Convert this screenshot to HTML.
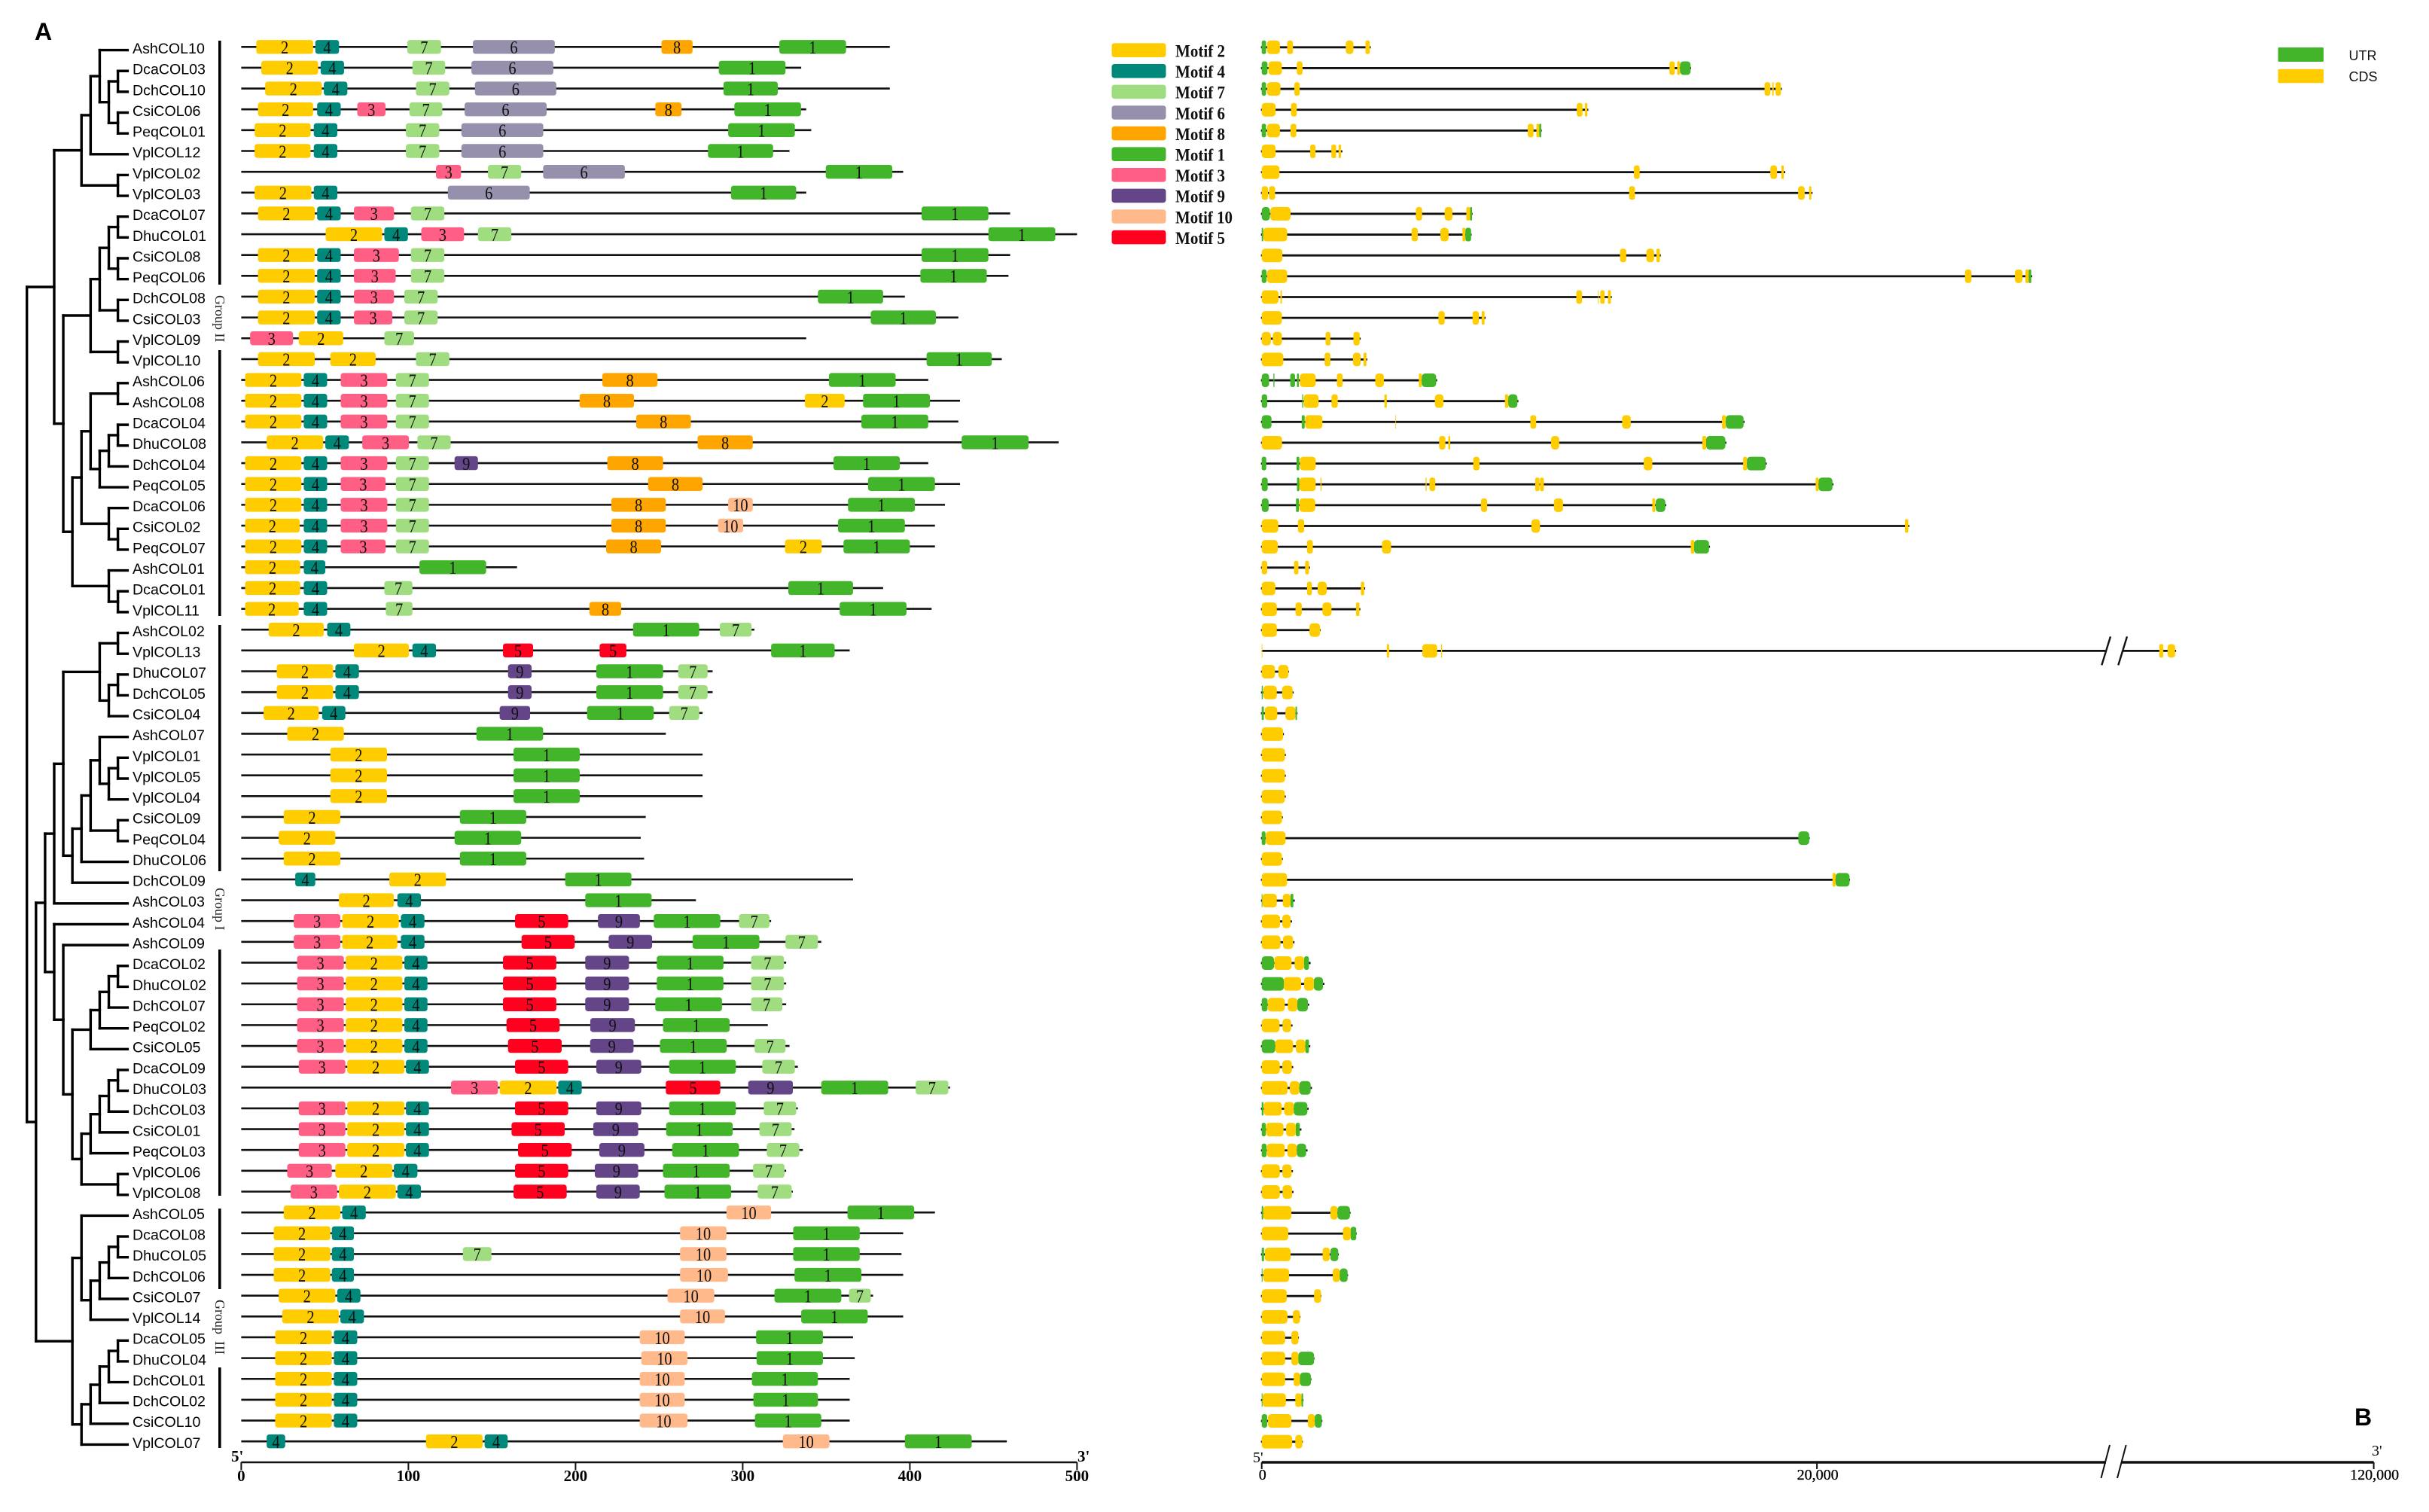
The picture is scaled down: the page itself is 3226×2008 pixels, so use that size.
<!DOCTYPE html>
<html lang="en">
<head>
<meta charset="utf-8">
<title>COL gene family: motifs and gene structure</title>
<style>
html,body{margin:0;padding:0;background:#fff;}
svg{display:block;}
.lab{font-family:"Liberation Sans",sans-serif;}
.ser{font-family:"Liberation Serif",serif;}
</style>
</head>
<body>
<svg id="chart" xmlns="http://www.w3.org/2000/svg" width="3226" height="2008" viewBox="0 0 3226 2008">
  <rect x="0" y="0" width="3226" height="2008" fill="#ffffff"/>
  <text class="lab" x="46" y="53" font-size="32" font-weight="bold">A</text>
  <text class="lab" x="3127" y="1893" font-size="32" font-weight="bold">B</text>

  <g fill="#000">
    <rect x="290" y="54" width="3.6" height="324"/>
    <rect x="290" y="465" width="3.6" height="353"/>
    <rect x="290" y="830" width="3.6" height="327"/>
    <rect x="290" y="1261" width="3.6" height="327"/>
    <rect x="290" y="1605" width="3.6" height="107"/>
    <rect x="290" y="1816" width="3.6" height="107"/>
  </g>
  <text class="ser" transform="translate(286,392) rotate(90)" font-size="18" fill="#222">Group II</text>
  <text class="ser" transform="translate(286,1179) rotate(90)" font-size="18" fill="#222">Group I</text>
  <text class="ser" transform="translate(286,1726) rotate(90)" font-size="18" fill="#222" xml:space="preserve">Group  III</text>

  <g id="tree"></g>
  <g id="names"></g>
  <g id="motifRows"></g>
  <g id="motifLegend"></g>
  <g id="geneRows"></g>
  <g id="geneLegend"></g>
  <g id="axisA"></g>
  <g id="axisB"></g>
</svg>
<script>
const geneNames=["AshCOL10","DcaCOL03","DchCOL10","CsiCOL06","PeqCOL01","VplCOL12","VplCOL02","VplCOL03","DcaCOL07","DhuCOL01","CsiCOL08","PeqCOL06","DchCOL08","CsiCOL03","VplCOL09","VplCOL10","AshCOL06","AshCOL08","DcaCOL04","DhuCOL08","DchCOL04","PeqCOL05","DcaCOL06","CsiCOL02","PeqCOL07","AshCOL01","DcaCOL01","VplCOL11","AshCOL02","VplCOL13","DhuCOL07","DchCOL05","CsiCOL04","AshCOL07","VplCOL01","VplCOL05","VplCOL04","CsiCOL09","PeqCOL04","DhuCOL06","DchCOL09","AshCOL03","AshCOL04","AshCOL09","DcaCOL02","DhuCOL02","DchCOL07","PeqCOL02","CsiCOL05","DcaCOL09","DhuCOL03","DchCOL03","CsiCOL01","PeqCOL03","VplCOL06","VplCOL08","AshCOL05","DcaCOL08","DhuCOL05","DchCOL06","CsiCOL07","VplCOL14","DcaCOL05","DhuCOL04","DchCOL01","DchCOL02","CsiCOL10","VplCOL07"];

const proteinLengths=[388,335,388,338,341,328,396,338,460,500,460,459,397,429,338,455,411,430,429,489,411,430,421,415,415,165,384,413,307,364,282,282,276,254,276,276,276,242,239,241,366,272,317,347,326,326,326,315,328,333,424,333,331,336,326,330,415,396,395,396,378,396,366,367,364,364,364,458];

const proteinMotifs=[
[[2,9,43],[4,44.3,58.5],[7,99.4,119.5],[6,138.6,187.6],[8,251.4,270],[1,321.9,361.8]],
[[2,12,46],[4,47.5,61.5],[7,102.4,122],[6,137.7,186.7],[1,285.7,325.6]],
[[2,14.3,48.2],[4,49.4,63.5],[7,104.5,124.5],[6,139.8,188.5],[1,288.5,321]],
[[2,10,43],[4,45.4,59.5],[3,69.4,86.3],[7,100.6,120.3],[6,133.6,182.7],[8,247.7,263.4],[1,295,334.9]],
[[2,8,41.5],[4,43.4,57.5],[7,98.5,118.5],[6,131.7,180.7],[1,291.3,331.2]],
[[2,8,41.5],[4,43.4,57.5],[7,98.5,118.5],[6,131.7,180.7],[1,279.2,318.2]],
[[3,116.5,131.5],[7,147.6,167.5],[6,180.6,229.5],[1,349.7,389.5]],
[[2,8,42],[4,43.4,57.5],[6,123.6,172.6],[1,293,332]],
[[2,10,44],[4,45.4,59.5],[3,67.4,91.4],[7,101.5,121.5],[1,407,447]],
[[2,50.5,84.3],[4,85.6,99.7],[3,107.7,133.3],[7,141.6,161.6],[1,447,487]],
[[2,10,44],[4,45.4,59.5],[3,67.4,94.3],[7,101.5,121.5],[1,407,447]],
[[2,10,44],[4,45.4,59.5],[3,67.4,92.4],[7,101.5,121.5],[1,406.3,446]],
[[2,10,44],[4,45.4,59.5],[3,67.4,91.4],[7,97.6,117.5],[1,345,384]],
[[2,10,44],[4,45.4,59.5],[3,67.4,90.4],[7,97.6,117.5],[1,376.6,415.6]],
[[3,5.3,31],[2,34.4,61],[7,85.6,103.4]],
[[2,10,44],[2,53.3,80.4],[7,104.5,124.5],[1,410,449]],
[[2,2.3,36],[4,37.4,51.4],[3,59.5,87.4],[7,92.5,112.3],[8,216,249],[1,351.6,391.5]],
[[2,2.3,36],[4,37.4,51.4],[3,59.5,87.4],[7,92.5,112.3],[8,202.4,235],[2,337.2,361],[1,372,412]],
[[2,2.3,36],[4,37.4,51.4],[3,59.5,87.4],[7,92.5,112.3],[8,236.3,269],[1,371,411]],
[[2,15.2,49],[4,50.3,64.4],[3,72.4,100.3],[7,105.4,125.3],[8,273,306],[1,431,471]],
[[2,2.3,36],[4,37.4,51.4],[3,59.5,87.4],[7,92.5,112.3],[9,127.6,141.6],[8,219,252.4],[1,354.3,394]],
[[2,2.3,36],[4,37.4,51.4],[3,59.5,86.4],[7,92.5,112.3],[8,243.4,276],[1,375,415]],
[[2,2.3,36],[4,37.4,51.4],[3,59.5,87.4],[7,92.5,112.3],[8,221.4,254],[10,291.3,306],[1,363,403]],
[[2,2.3,35],[4,37.4,51.4],[3,59.5,87.4],[7,92.5,112.3],[8,221.4,254],[10,285.2,300.3],[1,357,397]],
[[2,2.3,36],[4,37.4,51.4],[3,59.5,86.4],[7,92.5,112.3],[8,218.3,251.2],[2,325.3,347.3],[1,360.3,400]],
[[2,2.3,35.3],[4,37.4,50.3],[1,106.6,146.5]],
[[2,2.3,35.3],[4,37.4,51.4],[7,85.6,102.4],[1,327.3,366]],
[[2,2.3,34.4],[4,37.4,51.4],[7,86.5,102.4],[8,208.3,227.3],[1,358,398]],
[[2,16.4,49.4],[4,51.4,65.3],[1,234.4,274],[7,286.3,305.3]],
[[2,67.4,100.3],[4,102.4,116.5],[5,156.6,174.6],[5,214.4,230.4],[1,317,355]],
[[2,21.2,55],[4,56.3,70.4],[9,159.6,173.7],[1,212.4,252.4],[7,261.4,279]],
[[2,21.2,55],[4,56.3,70.4],[9,159.6,173.7],[1,212.4,252.4],[7,261.4,279]],
[[2,13.4,46.4],[4,48.4,62.3],[9,154.6,172.8],[1,206.9,246.8],[7,256,274]],
[[2,27.5,61.4],[1,140.7,180.6]],
[[2,53.3,87.2],[1,162.9,202.5]],
[[2,53.3,87.2],[1,162.9,202.5]],
[[2,53.3,87.2],[1,162.9,202.5]],
[[2,25.4,59.3],[1,130.8,170.5]],
[[2,22.4,56.3],[1,127.6,167.5]],
[[2,25.4,59.3],[1,130.8,170.5]],
[[4,32.3,44.3],[2,88.6,122.5],[1,193.8,233.4]],
[[2,58.4,91.3],[4,93.4,107.5],[1,205.8,245.5]],
[[3,31.4,59.3],[2,60.4,94.3],[4,95.5,109.6],[5,163.8,195.6],[9,213.4,238.5],[1,246.8,286.6],[7,297.8,316]],
[[3,31.4,59.3],[2,60.4,93.4],[4,95.5,109.6],[5,167.7,199.5],[9,219.8,245.8],[1,270,310],[7,325.6,345]],
[[3,33.4,61.4],[2,62.5,96.4],[4,97.6,111.4],[5,156.6,188.5],[9,205.8,232],[1,248.6,288.5],[7,305,324.7]],
[[3,33.4,61.4],[2,62.5,96.4],[4,97.6,111.4],[5,156.6,188.5],[9,205.8,232],[1,248.6,288.5],[7,305,324.7]],
[[3,33.4,61.4],[2,62.5,96.4],[4,97.6,111.4],[5,156.6,188.5],[9,205.8,232],[1,247.7,287.6],[7,305,323.7]],
[[3,33.4,61.4],[2,62.5,96.4],[4,97.6,111.4],[5,158.7,190.5],[9,208.8,235.5],[1,252.3,292.2]],
[[3,33.4,61.4],[2,62.5,96.4],[4,97.6,111.4],[5,159.6,191.7],[9,208.7,234.7],[1,250.5,290.4],[7,307.1,325.6]],
[[3,34.4,62.3],[2,63.4,97.6],[4,98.5,112.3],[5,163.8,195.6],[9,212.4,239.3],[1,256,295.9],[7,311.7,331.2]],
[[3,125.5,153.6],[2,154.6,188.7],[4,189.6,203.7],[5,254,286.6],[9,303.3,330],[1,347,387],[7,403.5,423]],
[[3,34.4,62.3],[2,63.4,97.6],[4,98.5,112.3],[5,163.8,195.6],[9,212.4,239.3],[1,256,295.9],[7,312.6,332]],
[[3,34.4,62.3],[2,63.4,97.6],[4,98.5,112.3],[5,161.7,193.5],[9,210.6,237.5],[1,254.2,294],[7,310,329.3]],
[[3,34.4,62.3],[2,63.4,97.6],[4,98.5,112.3],[5,165.6,197.7],[9,214.2,241.2],[1,257.8,297.8],[7,314.4,333.9]],
[[3,27.5,54.2],[2,56.3,90.4],[4,91.3,105.4],[5,163.8,195.6],[9,211.5,237.5],[1,252.3,292.2],[7,306.2,325]],
[[3,29.5,57.4],[2,58.4,92.5],[4,93.4,107.5],[5,162.9,194.7],[9,212.4,238.4],[1,253.2,293.1],[7,308.9,329.3]],
[[2,25.4,59.3],[4,60.4,74.5],[10,290.3,317],[1,362.7,402.6]],
[[2,19.4,53.3],[4,54.2,67.4],[10,262.5,290.3],[1,330.2,370]],
[[2,19.4,53.3],[4,54.2,67.4],[7,132.6,149.7],[10,262.5,290.3],[1,330.2,370]],
[[2,19.4,53.3],[4,54.2,67.4],[10,262.5,291.2],[1,331,371]],
[[2,22.4,56.3],[4,57.4,71.3],[10,255,283],[1,319,359],[7,363.6,376.6]],
[[2,24.5,58.4],[4,59.3,73.4],[10,262.5,289.4],[1,335,374.8]],
[[2,20.3,54.2],[4,55.4,69.4],[10,238.4,265.3],[1,308,348]],
[[2,20.3,54.2],[4,55.4,69.4],[10,239.3,267],[1,308.3,348]],
[[2,20.3,54.2],[4,55.4,69.4],[10,238.4,265.3],[1,305.5,345]],
[[2,20.3,54.2],[4,55.4,69.4],[10,238.4,265.3],[1,306.4,345]],
[[2,20.3,54.2],[4,55.4,69.4],[10,238.4,267],[1,307.3,347]],
[[4,15.2,26.3],[2,110.5,144.4],[4,145.6,159.4],[10,324,351.9],[1,397,437]]
];

const geneLengths=[3927,15466,18736,11764,10086,2906,18857,19840,7595,7560,14376,27755,12612,8062,3564,3806,6320,9246,17393,16737,18190,20595,14573,23327,16148,1737,3727,3553,2120,112880,980,1150,1290,800,868,868,868,760,19740,760,21190,1190,1090,1180,1760,2260,1710,1110,1750,1135,1810,1690,1430,1650,1125,1145,3200,3420,2775,3110,2150,1395,1340,1900,1790,1505,2185,1480];

const geneExons=[
[["U",0,156],["C",190,657],["C",917,1125],["C",3028,3304],["C",3737,3893]],
[["U",0,208],["C",242,727],["C",1263,1470],["C",14688,14878],["C",14965,15068],["U",15068,15449]],
[["U",0,156],["C",190,675],["C",1176,1367],["C",18113,18321],["C",18390,18442],["C",18511,18701]],
[["C",0,502],["C",1055,1263],["C",11349,11556],["C",11643,11730]],
[["U",0,156],["C",190,657],["C",1038,1246],["C",9584,9792],["C",9896,10000],["U",10000,10069]],
[["C",0,502],["C",1747,1938],["C",2509,2682],["C",2768,2855]],
[["C",0,640],["C",13408,13615],["C",18321,18563],["C",18719,18805]],
[["C",0,225],["C",260,484],["C",13235,13442],["C",19320,19560],["C",19720,19800]],
[["U",0,294],["C",311,1038],["C",5553,5778],["C",6591,6868],["C",7370,7508],["U",7508,7577]],
[["U",0,52],["C",52,917],["C",5398,5622],["C",6436,6730],["C",7231,7335],["U",7335,7543]],
[["C",0,744],["C",12906,13131],["C",13857,14134],["C",14220,14342]],
[["U",0,173],["C",190,917],["C",25332,25566],["C",27131,27402],["C",27510,27630],["U",27630,27720]],
[["C",0,605],["C",675,727],["C",11332,11539],["C",12110,12128],["C",12197,12352],["C",12473,12577]],
[["C",0,727],["C",6366,6591],["C",7595,7820],["C",7923,8027]],
[["C",0,329],["C",398,727],["C",2301,2474],["C",3304,3529]],
[["C",0,779],["C",2266,2474],["C",3287,3564],["C",3668,3772]],
[["U",0,266],["U",422,457],["U",1028,1200],["U",1270,1339],["C",1374,1945],["C",2706,2914],["C",4090,4401],["C",5661,5765],["U",5765,6284]],
[["U",0,197],["U",1460,1495],["C",1512,2048],["C",2515,2740],["C",4419,4506],["C",6236,6547],["C",8761,8882],["U",8882,9211]],
[["U",0,353],["U",1443,1547],["C",1564,2187],["C",4817,4834],["C",9678,9886],["C",12982,13293],["C",16580,16718],["U",16718,17358]],
[["C",0,733],["C",6391,6616],["C",6720,6789],["C",10422,10716],["C",15871,16010],["U",16010,16702]],
[["U",0,163],["U",1253,1356],["C",1374,1945],["C",7619,7844],["C",13760,14071],["C",17342,17480],["U",17480,18155]],
[["U",0,215],["U",1270,1356],["C",1356,1945],["C",2117,2152],["C",5903,5938],["C",6042,6252],["C",9851,10007],["C",10024,10162],["C",19955,20059],["U",20059,20560]],
[["U",0,249],["U",1235,1339],["C",1356,1927],["C",7896,8121],["C",10525,10854],["C",14071,14175],["U",14192,14538]],
[["C",0,595],["C",1304,1529],["C",9713,10024],["C",23171,23292]],
[["C",0,578],["C",1633,1841],["C",4332,4661],["C",15456,15577],["U",15577,16113]],
[["C",0,197],["C",1166,1322],["C",1564,1702]],
[["C",0,491],["C",1633,1806],["C",2014,2342],["C",3571,3692]],
[["C",0,543],["C",1218,1443],["C",2187,2515],["C",3398,3519]],
[["C",0,543],["C",1720,2100]],
[["C",0,24],["C",4505,4590],["C",5785,6321],["C",6460,6495],["C",112276,112420],["C",112574,112845]],
[["C",0,477],["C",598,961]],
[["U",0,41],["C",59,543],["C",733,1114]],
[["U",0,76],["C",111,561],["C",855,1218],["U",1218,1270]],
[["C",0,768]],
[["C",0,837]],
[["C",0,837]],
[["C",0,832]],
[["C",0,732]],
[["U",0,136],["C",145,859],["U",19331,19722]],
[["C",0,732]],
[["C",0,913],["C",20560,20672],["U",20672,21175]],
[["U",0,18],["C",18,542],["C",759,1040],["U",1040,1139]],
[["C",0,660],["C",741,1040]],
[["C",0,678],["C",768,1130]],
[["U",0,443],["C",452,1076],["C",1184,1528],["U",1528,1700]],
[["U",0,796],["C",796,1419],["C",1528,1880],["U",1880,2206]],
[["U",0,208],["C",217,832],["C",940,1284],["U",1284,1663]],
[["C",0,642],["C",750,1058]],
[["U",0,488],["C",488,1130],["C",1229,1573],["U",1573,1700]],
[["C",0,651],["C",741,1085]],
[["C",0,931],["C",1012,1356],["U",1356,1763]],
[["U",0,63],["C",72,723],["C",805,1157],["U",1157,1645]],
[["U",0,145],["C",154,786],["C",877,1229],["U",1229,1374]],
[["U",0,172],["C",181,832],["C",922,1266],["U",1266,1600]],
[["C",0,651],["C",741,1076]],
[["C",0,651],["C",750,1094]],
[["U",0,56],["C",56,1069],["C",2475,2729],["U",2729,3179]],
[["C",0,956],["C",2926,3207],["U",3207,3404]],
[["U",0,84],["C",112,1041],["C",2194,2447],["U",2475,2757]],
[["U",0,28],["C",56,985],["C",2560,2813],["U",2813,3094]],
[["C",0,900],["C",1885,2138]],
[["C",0,928],["C",1125,1378]],
[["C",0,844],["C",1069,1322]],
[["C",0,844],["C",1069,1322],["U",1322,1885]],
[["C",0,844],["C",1153,1378],["U",1378,1772]],
[["U",0,28],["C",28,872],["C",1210,1434],["U",1434,1491]],
[["U",0,197],["C",225,1069],["C",1660,1913],["U",1913,2166]],
[["C",0,1097],["C",1210,1463]]
];

const phyloTree=[0,
 [3,
  [6,[7,[8,"AshCOL10",[9,[10,"DcaCOL03","DchCOL10"],[10,"CsiCOL06","PeqCOL01"]]],"VplCOL12"],[10,"VplCOL02","VplCOL03"]],
  [4,
   [7,[8,[9,[10,"DcaCOL07","DhuCOL01"],[10,"CsiCOL08","PeqCOL06"]],[10,"DchCOL08","CsiCOL03"]],[10,"VplCOL09","VplCOL10"]],
   [5,
    [6,[7,[10,"AshCOL06","AshCOL08"],[8,[9,[10,"DcaCOL04","DhuCOL08"],"DchCOL04"],"PeqCOL05"]],[9,"DcaCOL06",[10,"CsiCOL02","PeqCOL07"]]],
    [9,"AshCOL01",[10,"DcaCOL01","VplCOL11"]]
   ]
  ]
 ],
 [1,
  [2,
   [3,
    [4,
     [8,[10,"AshCOL02","VplCOL13"],[9,[10,"DhuCOL07","DchCOL05"],"CsiCOL04"]],
     [5,[6,[7,[8,"AshCOL07",[9,[10,"VplCOL01","VplCOL05"],"VplCOL04"]],[10,"CsiCOL09","PeqCOL04"]],"DhuCOL06"],"DchCOL09"]
    ],
    "AshCOL03"
   ],
   [3,"AshCOL04",[4,"AshCOL09",
     [5,
      [7,[8,[9,[10,"DcaCOL02","DhuCOL02"],"DchCOL07"],"PeqCOL02"],"CsiCOL05"],
      [6,[7,[8,[9,[10,"DcaCOL09","DhuCOL03"],"DchCOL03"],"CsiCOL01"],"PeqCOL03"],[10,"VplCOL06","VplCOL08"]]
     ]
   ]]
  ],
  [5,
   [6,"AshCOL05",[7,[8,[9,[10,"DcaCOL08","DhuCOL05"],"DchCOL06"],"CsiCOL07"],"VplCOL14"]],
   [6,[7,[8,[9,[10,"DcaCOL05","DhuCOL04"],"DchCOL01"],"DchCOL02"],"CsiCOL10"],"VplCOL07"]
  ]
 ]
];

const motifLegendOrder=[2,4,7,6,8,1,3,9,10,5];
const motifColors={1:"#43B52B",2:"#FFCC00",3:"#FF5F85",4:"#00897B",5:"#FF001F",6:"#9790AD",7:"#A0DC80",8:"#FFA500",9:"#634588",10:"#FFB98A"};
const exonColors={U:"#43B52B",C:"#FFCC00"};
const proteinTicks=[0,100,200,300,400,500];
const geneTicks=[0,20000,120000];
const geneTickLabels=["0","20,000","120,000"];
const brokenGeneRow=29;

const NS="http://www.w3.org/2000/svg";
function make(tag,parent,props){
  const el=document.createElementNS(NS,tag);
  for(const k in props){el.setAttribute(k,props[k]);}
  parent.appendChild(el);
  return el;
}
function rowY(i){return 62.3+27.64*i;}
function aaX(aa){return 320.4+2.22*aa;}
const BP_PX=0.03687;
const BREAK_LEFT_BP=30385;
const BREAK_RIGHT_BP=110950;
function bpX(bp){
  if(bp<=BREAK_LEFT_BP+1){return 1675.7+BP_PX*bp;}
  return 3152.6-(120000-bp)*BP_PX;
}
function levelX(l){return 35.7+12.09*l;}
const LEAF_END=169.4;

/* phylogenetic tree */
const treeG=document.getElementById("tree");
function branch(x1,y1,x2,y2){
  const ln=make("line",treeG,{x1:x1,y1:y1,x2:x2,y2:y2,stroke:"#000","stroke-width":3.4,"stroke-linecap":"square"});
  
  
}
function layout(node){
  if(typeof node==="string"){
    return {y:rowY(geneNames.indexOf(node))+4.3,x:LEAF_END,leaf:true};
  }
  const x=levelX(node[0]);
  const a=layout(node[1]);
  const b=layout(node[2]);
  branch(x,a.y,a.x,a.y);
  branch(x,b.y,b.x,b.y);
  branch(x,a.y,x,b.y);
  return {y:(a.y+b.y)/2,x:x,leaf:false};
}
layout(phyloTree);

/* gene names */
const namesG=document.getElementById("names");
geneNames.forEach(function(n,i){
  const t=make("text",namesG,{x:176,y:rowY(i)+8.7,"font-size":19.6,fill:"#000",class:"lab"});
  t.textContent=n;
  
  
});

/* motif panel */
const motifG=document.getElementById("motifRows");
proteinMotifs.forEach(function(ms,i){
  const y=rowY(i);
  const ln=make("line",motifG,{x1:aaX(0),y1:y,x2:aaX(proteinLengths[i]),y2:y,stroke:"#111","stroke-width":2.6});
  
  
  ms.forEach(function(m){
    const x0=aaX(m[1]),x1=aaX(m[2]);
    const r=make("rect",motifG,{x:x0,y:y-9.2,width:x1-x0,height:18.4,rx:3.5,ry:3.5,fill:motifColors[m[0]]});
    
    
    const label=String(m[0]);
    const t=make("text",motifG,{x:(x0+x1)/2,y:y+8.8,"font-size":24,"text-anchor":"middle",textLength:label.length*10.2,lengthAdjust:"spacingAndGlyphs",fill:"#111",class:"ser"});
    t.textContent=label;
    
    
  });
});

/* motif legend */
const legG=document.getElementById("motifLegend");
motifLegendOrder.forEach(function(m,i){
  const y=66.7+27.6*i;
  const r=make("rect",legG,{x:1476.5,y:y-9.3,width:72,height:18.6,rx:3.5,ry:3.5,fill:motifColors[m]});
  
  
  const t=make("text",legG,{x:1561,y:y+8.8,"font-size":23,"font-weight":"bold",textLength:m===10?76:66,lengthAdjust:"spacingAndGlyphs",fill:"#111",class:"ser"});
  t.textContent="Motif "+m;
  
  
});

/* gene structure panel */
const geneG=document.getElementById("geneRows");
geneExons.forEach(function(ex,i){
  const y=rowY(i)+0.5;
  const end=geneLengths[i];
  if(i===brokenGeneRow){
    const l1=make("line",geneG,{x1:bpX(0),y1:y,x2:bpX(BREAK_LEFT_BP),y2:y,stroke:"#111","stroke-width":2.8});
    
    
    const l2=make("line",geneG,{x1:bpX(BREAK_RIGHT_BP),y1:y,x2:bpX(end),y2:y,stroke:"#111","stroke-width":2.8});
    
    
    const b1=make("line",geneG,{x1:2791.3,y1:y+19,x2:2803,y2:y-19,stroke:"#111","stroke-width":2.4});
    
    
    const b2=make("line",geneG,{x1:2813.3,y1:y+19,x2:2825,y2:y-19,stroke:"#111","stroke-width":2.4});
    
    
  }else{
    const l=make("line",geneG,{x1:bpX(0)-1,y1:y,x2:bpX(end),y2:y,stroke:"#111","stroke-width":2.8});
    
    
  }
  ex.forEach(function(e){
    const x0=bpX(e[1]);
    const w=Math.max(bpX(e[2])-x0,0.8);
    const rad=Math.min(4.5,w/2.4);
    const r=make("rect",geneG,{x:x0,y:y-9,width:w,height:18,rx:rad,ry:rad,fill:exonColors[e[0]]});
    
    
  });
});

/* gene legend */
const gl=document.getElementById("geneLegend");
const utrSw=make("rect",gl,{x:3025.5,y:63,width:60.5,height:19,rx:1.5,fill:exonColors.U});


const cdsSw=make("rect",gl,{x:3025.5,y:91.7,width:60.5,height:18.5,rx:1.5,fill:exonColors.C});


const utrT=make("text",gl,{x:3119.5,y:80,"font-size":18,fill:"#111",class:"lab"});
utrT.textContent="UTR";


const cdsT=make("text",gl,{x:3119.5,y:108,"font-size":18,fill:"#111",class:"lab"});
cdsT.textContent="CDS";



/* protein axis */
const ax=document.getElementById("axisA");
const axLine=make("line",ax,{x1:aaX(0),y1:1942,x2:aaX(500),y2:1942,stroke:"#111","stroke-width":2.6});


proteinTicks.forEach(function(v){
  const tk=make("line",ax,{x1:aaX(v),y1:1942,x2:aaX(v),y2:1952,stroke:"#111","stroke-width":2});
  
  
  const t=make("text",ax,{x:aaX(v),y:1967,"font-size":21,"font-weight":"bold","text-anchor":"middle",fill:"#000",class:"ser"});
  t.textContent=String(v);
  
  
});
const a5=make("text",ax,{x:307,y:1941,"font-size":21,"font-weight":"bold",fill:"#000",class:"ser"});
a5.textContent="5'";


const a3=make("text",ax,{x:1431,y:1941,"font-size":21,"font-weight":"bold",fill:"#000",class:"ser"});
a3.textContent="3'";



/* gene axis */
const bx=document.getElementById("axisB");
const bl1=make("line",bx,{x1:bpX(0),y1:1942,x2:2797,y2:1942,stroke:"#111","stroke-width":3.6});


const bl2=make("line",bx,{x1:2818,y1:1942,x2:bpX(120000),y2:1942,stroke:"#111","stroke-width":3.6});


const bb1=make("line",bx,{x1:2790.5,y1:1963,x2:2802,y2:1919,stroke:"#111","stroke-width":2});


const bb2=make("line",bx,{x1:2812,y1:1963,x2:2823.7,y2:1919,stroke:"#111","stroke-width":2});


geneTicks.forEach(function(v,i){
  const tk=make("line",bx,{x1:bpX(v),y1:1942,x2:bpX(v),y2:1951,stroke:"#111","stroke-width":2});
  
  
  const t=make("text",bx,{x:bpX(v)+1,y:1965,"font-size":20,"text-anchor":"middle",fill:"#000",stroke:"#000","stroke-width":0.3,class:"ser"});
  t.textContent=geneTickLabels[i];
  
  
});
const b5=make("text",bx,{x:1664,y:1942,"font-size":20,fill:"#000",class:"ser"});
b5.textContent="5'";


const b3=make("text",bx,{x:3150,y:1933,"font-size":20,fill:"#000",class:"ser"});
b3.textContent="3'";


</script>
</body>
</html>
